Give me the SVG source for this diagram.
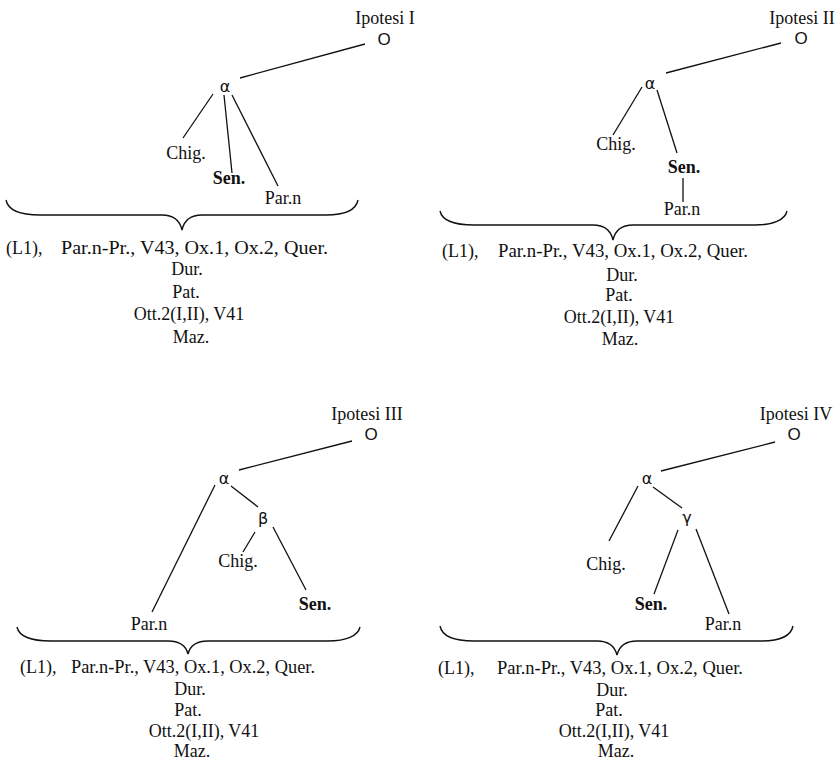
<svg xmlns="http://www.w3.org/2000/svg" width="840" height="762" viewBox="0 0 840 762">
<style>
.t{font-family:"Liberation Serif","Times New Roman",serif;font-size:18px;fill:#111;}
.c{text-anchor:middle;}
.b{font-weight:bold;}
.s{font-family:"DejaVu Sans","Liberation Sans",sans-serif;font-size:16px;fill:#111;text-anchor:middle;}
.o{font-family:"Liberation Sans",Arial,sans-serif;font-size:17px;fill:#111;text-anchor:middle;}
.ln{stroke:#111;stroke-width:1.3;fill:none;}
.br{stroke:#111;stroke-width:1.4;fill:none;}
</style>
<rect width="840" height="762" fill="#fff"/>

<!-- Panel I -->
<g id="p1-title"><text class="t c" x="385" y="24" font-size="19">Ipotesi I</text></g>
<g id="p1-O"><text class="o" x="384" y="45">O</text></g>
<g id="p1-alpha"><text class="s" x="225" y="92">α</text></g>
<g id="p1-chig"><text class="t c" x="186" y="159">Chig.</text></g>
<g id="p1-sen"><text class="t c b" x="229" y="184">Sen.</text></g>
<g id="p1-parn"><text class="t c" x="283" y="204">Par.n</text></g>
<g id="p1-list">
<text class="t" x="6" y="254" font-size="19">(L1),<tspan x="61" textLength="267" lengthAdjust="spacingAndGlyphs">Par.n-Pr., V43, Ox.1, Ox.2, Quer.</tspan></text>
<text class="t c" x="187" y="275" font-size="19">Dur.</text>
<text class="t c" x="186" y="298" font-size="19">Pat.</text>
<text class="t c" x="189" y="320" font-size="19">Ott.2(I,II), V41</text>
<text class="t c" x="191" y="343" font-size="19">Maz.</text>
</g>

<!-- Panel II -->
<g id="p2-title"><text class="t c" x="802" y="24" font-size="19">Ipotesi II</text></g>
<g id="p2-O"><text class="o" x="801" y="44">O</text></g>
<g id="p2-alpha"><text class="s" x="650" y="89">α</text></g>
<g id="p2-chig"><text class="t c" x="616" y="150">Chig.</text></g>
<g id="p2-sen"><text class="t c b" x="684" y="173">Sen.</text></g>
<g id="p2-parn"><text class="t c" x="682" y="215">Par.n</text></g>
<g id="p2-list">
<text class="t" x="442" y="257">(L1),<tspan x="498" textLength="250" lengthAdjust="spacingAndGlyphs">Par.n-Pr., V43, Ox.1, Ox.2, Quer.</tspan></text>
<text class="t c" x="622" y="281">Dur.</text>
<text class="t c" x="619" y="301">Pat.</text>
<text class="t c" x="619" y="323">Ott.2(I,II), V41</text>
<text class="t c" x="620" y="345">Maz.</text>
</g>

<!-- Panel III -->
<g id="p3-title"><text class="t c" x="367" y="420">Ipotesi III</text></g>
<g id="p3-O"><text class="o" x="371" y="440">O</text></g>
<g id="p3-alpha"><text class="s" x="224" y="484">α</text></g>
<g id="p3-beta"><text class="s" x="263" y="524">β</text></g>
<g id="p3-chig"><text class="t c" x="238" y="567">Chig.</text></g>
<g id="p3-sen"><text class="t c b" x="315" y="610">Sen.</text></g>
<g id="p3-parn"><text class="t c" x="149" y="630">Par.n</text></g>
<g id="p3-list">
<text class="t" x="20" y="673">(L1),<tspan x="71" textLength="244" lengthAdjust="spacingAndGlyphs">Par.n-Pr., V43, Ox.1, Ox.2, Quer.</tspan></text>
<text class="t c" x="190" y="695">Dur.</text>
<text class="t c" x="188" y="716">Pat.</text>
<text class="t c" x="204" y="737">Ott.2(I,II), V41</text>
<text class="t c" x="192" y="757">Maz.</text>
</g>

<!-- Panel IV -->
<g id="p4-title"><text class="t c" x="796" y="420">Ipotesi IV</text></g>
<g id="p4-O"><text class="o" x="794" y="440">O</text></g>
<g id="p4-alpha"><text class="s" x="647" y="484">α</text></g>
<g id="p4-gamma"><text class="s" x="687" y="523">γ</text></g>
<g id="p4-chig"><text class="t c" x="606" y="570">Chig.</text></g>
<g id="p4-sen"><text class="t c b" x="651" y="610">Sen.</text></g>
<g id="p4-parn"><text class="t c" x="723" y="630">Par.n</text></g>
<g id="p4-list">
<text class="t" x="438" y="674">(L1),<tspan x="497" textLength="246" lengthAdjust="spacingAndGlyphs">Par.n-Pr., V43, Ox.1, Ox.2, Quer.</tspan></text>
<text class="t c" x="612" y="696">Dur.</text>
<text class="t c" x="609" y="716">Pat.</text>
<text class="t c" x="614" y="737">Ott.2(I,II), V41</text>
<text class="t c" x="616" y="757">Maz.</text>
</g>

<!-- Connectors -->
<g id="connectors">
<line class="ln" x1="365" y1="44" x2="240" y2="78"/>
<line class="ln" x1="213" y1="94" x2="183" y2="138"/>
<line class="ln" x1="224" y1="95" x2="232" y2="173"/>
<line class="ln" x1="232" y1="95" x2="278" y2="186"/>

<line class="ln" x1="781" y1="43" x2="666" y2="73"/>
<line class="ln" x1="642" y1="87" x2="613" y2="135"/>
<line class="ln" x1="657" y1="90" x2="677" y2="153"/>
<line class="ln" x1="683" y1="178" x2="683" y2="202"/>

<line class="ln" x1="352" y1="441" x2="239" y2="470"/>
<line class="ln" x1="215" y1="485" x2="152" y2="612"/>
<line class="ln" x1="231" y1="486" x2="258" y2="507"/>
<line class="ln" x1="255" y1="532" x2="243" y2="552"/>
<line class="ln" x1="273" y1="527" x2="306" y2="590"/>

<line class="ln" x1="775" y1="442" x2="661" y2="471"/>
<line class="ln" x1="638" y1="486" x2="609" y2="541"/>
<line class="ln" x1="653" y1="487" x2="682" y2="508"/>
<line class="ln" x1="678" y1="530" x2="654" y2="594"/>
<line class="ln" x1="696" y1="529" x2="729" y2="614"/>

<!-- Braces -->
<path class="br" d="M6,200 C8,210 20,215 40,215 L162,215 C174,215 180,221 182,230 C184,221 190,215 202,215 L326,215 C344,215 356,210 358,200"/>
<path class="br" d="M440,211 C442,220 454,225 474,225 L593,225 C605,225 611,231 613,240 C615,231 621,225 633,225 L755,225 C773,225 785,220 787,211"/>
<path class="br" d="M17,627 C19,636 31,641 51,641 L168,641 C180,641 186,646 188,654 C190,646 196,641 208,641 L328,641 C346,641 358,636 360,627"/>
<path class="br" d="M440,626 C442,636 454,641 474,641 L597,641 C609,641 615,647 617,655 C619,647 625,641 637,641 L761,641 C779,641 791,636 793,626"/>
</g>
</svg>
